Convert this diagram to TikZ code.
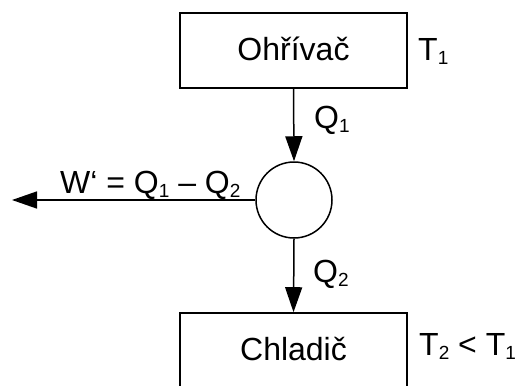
\documentclass[tikz,border=0pt]{standalone}
\usepackage{fontspec}
\setmainfont{Liberation Sans}
\usetikzlibrary{arrows.meta}
\newcommand\lowidx[1]{\raisebox{-4pt}{\fontsize{19}{19}\selectfont #1}}
\begin{document}
\begin{tikzpicture}[x=1pt,y=-1pt,
  every node/.style={font=\fontsize{32}{34}\selectfont},
  box/.style={draw,line width=1.6pt,minimum width=227pt,minimum height=75pt,inner sep=0pt,text height=23pt,text depth=3pt},
  flow/.style={line width=1.5pt,-{Triangle[length=25pt,width=17pt]}},
  lbl/.style={inner sep=0pt,anchor=base west}]
\useasboundingbox (0,0) rectangle (518,385);
\clip (0,0) rectangle (518,385);
\node[box] (heater) at (293.5,50.5) {Ohřívač};
\node[draw,circle,line width=1.5pt,minimum size=76pt,inner sep=0pt] (engine) at (294,200) {};
\node[box] (cooler) at (293.5,350.5) {Chladič};
\coordinate (work) at (12,200);
\draw[flow] (heater.south) -- (engine.north);
\draw[flow] (engine.south) -- (cooler.north);
\draw[flow] (engine.west) -- (work);
\node[lbl] (t1) at (418,61) {T\lowidx{1}};
\node[lbl] (q1) at (314,128) {Q\lowidx{1}};
\node[lbl] (w) at (60,193) {W‘ = Q\lowidx{1} – Q\lowidx{2}};
\node[lbl] (q2) at (313,282) {Q\lowidx{2}};
\node[lbl] (t2) at (419,355) {T\lowidx{2} < T\lowidx{1}};
\end{tikzpicture}
\end{document}
